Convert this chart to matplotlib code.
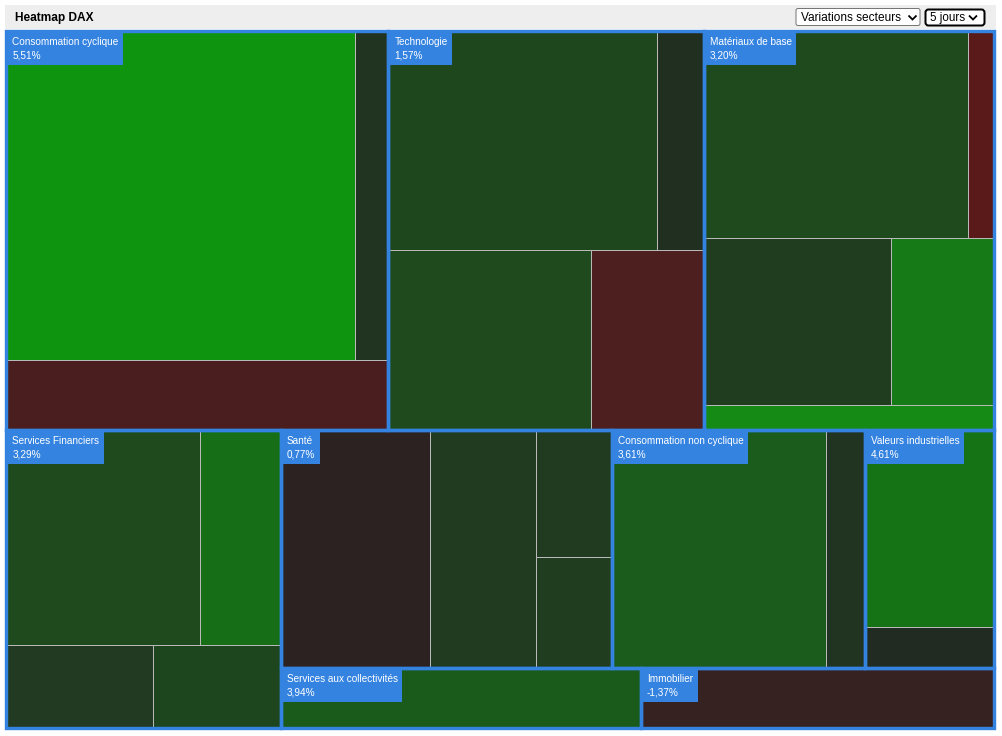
import numpy as np
import matplotlib.pyplot as plt
from matplotlib.patches import Rectangle, FancyBboxPatch

plt.rcParams['font.family'] = ['Liberation Sans', 'DejaVu Sans']

# ---- Données ----
secteurs = ["Consommation cyclique", "Technologie", "Matériaux de base",
            "Services Financiers", "Santé", "Consommation non cyclique",
            "Valeurs industrielles", "Services aux collectivités", "Immobilier"]
variations = ["5,51%", "1,57%", "3,20%", "3,29%", "0,77%", "3,61%",
              "4,61%", "3,94%", "-1,37%"]

# poids des valeurs (capitalisation relative) par secteur
poids_cc = [114.8, 10.9, 26.7]
poids_tech = [59.0, 10.3, 36.2, 20.2]
poids_mat = [54.9, 5.6, 31.3, 17.3, 7.0]
poids_sf = [41.7, 17.5, 12.0, 10.5]
poids_sante = [35.5, 25.2, 9.7, 8.4]
poids_cnc = [50.9, 9.3]
poids_vi = [25.7, 5.2]
poids_sac = [21.6]
poids_immo = [21.2]

couleurs_cc = ['#0f9410', '#213321', '#4a1e1e']
couleurs_tech = ['#1e471e', '#212f21', '#1e4a1e', '#4d1f1f']
couleurs_mat = ['#1e4a1e', '#5a1a1a', '#203d20', '#167a16', '#158a15']
couleurs_sf = ['#1e4a1e', '#166f16', '#213a21', '#1e461e']
couleurs_sante = ['#2c2222', '#213b21', '#213b21', '#203d20']
couleurs_cnc = ['#1b5b1b', '#213321']
couleurs_vi = ['#157215', '#222b22']
couleurs_sac = ['#1a5a1a']
couleurs_immo = ['#372222']

poids = [poids_cc, poids_tech, poids_mat, poids_sf, poids_sante,
         poids_cnc, poids_vi, poids_sac, poids_immo]
couleurs = [couleurs_cc, couleurs_tech, couleurs_mat, couleurs_sf, couleurs_sante,
            couleurs_cnc, couleurs_vi, couleurs_sac, couleurs_immo]

# découpage: 'h' = côte à côte, 'v' = empilé
decoupe_racine = ('v', [('h', [0, 1, 2]),
                        ('h', [3, ('v', [('h', [4, 5, 6]), ('h', [7, 8])])])])
decoupes = [('v', [('h', [0, 1]), 2]),
            ('v', [('h', [0, 1]), ('h', [2, 3])]),
            ('v', [('h', [0, 1]), ('h', [2, 3]), 4]),
            ('v', [('h', [0, 1]), ('h', [2, 3])]),
            ('h', [0, 1, ('v', [2, 3])]),
            ('h', [0, 1]),
            ('v', [0, 1]),
            0,
            0]


def total(noeud, vals):
    if isinstance(noeud, int):
        return vals[noeud]
    return sum(total(k, vals) for k in noeud[1])


def decouper(noeud, vals, x0, y0, x1, y1, res):
    if isinstance(noeud, int):
        res[noeud] = (x0, y0, x1, y1)
        return
    sens, enfants = noeud
    tot = total(noeud, vals)
    pos = x0 if sens == 'h' else y0
    for k in enfants:
        f = total(k, vals) / tot
        if sens == 'h':
            fin = pos + (x1 - x0) * f
            decouper(k, vals, pos, y0, fin, y1, res)
        else:
            fin = pos + (y1 - y0) * f
            decouper(k, vals, x0, pos, x1, fin, res)
        pos = fin


fig = plt.figure(figsize=(10.02, 7.36), dpi=100)
ax = fig.add_axes([0, 0, 1, 1])
ax.set_xlim(0, 1002)
ax.set_ylim(736, 0)
ax.axis('off')

bleu = '#3483e0'
px = 72 / 100  # 1 pixel en points

# bandeau
ax.add_patch(Rectangle((5, 5), 991, 24, fc='#eeeeee', ec='none'))
ax.text(15, 17.5, "Heatmap DAX", fontsize=8.6, fontweight='bold', va='center', ha='left')

# listes déroulantes
ax.add_patch(FancyBboxPatch((796, 8.5), 124, 17, boxstyle='round,pad=0,rounding_size=2',
                            fc='white', ec='#767676', lw=1 * px))
ax.text(801.5, 17.8, "Variations secteurs", fontsize=8.6, va='center', ha='left')
ax.add_patch(FancyBboxPatch((925.5, 9.5), 59, 16, boxstyle='round,pad=0,rounding_size=3',
                            fc='white', ec='black', lw=2 * px))
ax.text(930, 17.8, "5 jours", fontsize=8.4, va='center', ha='left')
for cx in [912.5, 973]:
    ax.plot([cx - 4, cx, cx + 4], [15.5, 19.5, 15.5], color='black', lw=1.8 * px,
            solid_capstyle='butt', solid_joinstyle='miter')

# treemap
x0, y0, x1, y1 = 6.5, 30.5, 994.5, 727.5
sect_vals = [sum(p) for p in poids]
rects_sect = {}
decouper(decoupe_racine, sect_vals, x0, y0, x1, y1, rects_sect)

for i in range(len(secteurs)):
    sx0, sy0, sx1, sy1 = rects_sect[i]
    rects = {}
    decouper(decoupes[i], poids[i], sx0, sy0, sx1, sy1, rects)
    for j, (a, b, c, d) in rects.items():
        ax.add_patch(Rectangle((a, b), c - a, d - b, fc=couleurs[i][j],
                               ec='#b9b9b9', lw=1 * px))

for i in range(len(secteurs)):
    sx0, sy0, sx1, sy1 = rects_sect[i]
    ax.add_patch(Rectangle((sx0, sy0), sx1 - sx0, sy1 - sy0, fc='none',
                           ec=bleu, lw=3.4 * px, joinstyle='miter'))
    ax.text(sx0 + 6, sy0 + 6.8, f"{secteurs[i]}\n{variations[i]}", color='white',
            fontsize=7.2, ha='left', va='top', linespacing=1.38,
            bbox=dict(boxstyle='square,pad=0.46', fc=bleu, ec='none'))

fig.savefig('out.png', dpi=100)
